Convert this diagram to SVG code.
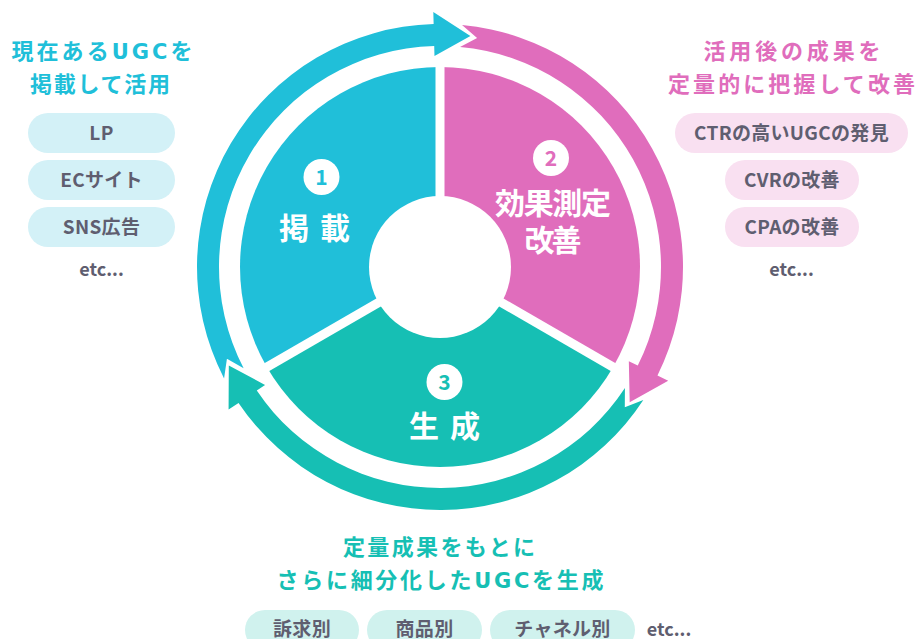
<svg xmlns="http://www.w3.org/2000/svg" width="917" height="639" viewBox="0 0 917 639">
<style>
text{font-family:"Noto Sans CJK JP","Noto Sans",sans-serif;font-weight:700}
.blue{fill:#20bfd9}.pink{fill:#e06dbc}.teal{fill:#16bfb4}
.lbl{fill:#fff;font-size:30px}
.num{font-size:21px;text-anchor:middle}
.ttl{font-size:22px;text-anchor:middle}
.lat{font-family:"DejaVu Sans",sans-serif;font-size:21px}
.pill-t{fill:#5f5e70;font-size:19px;text-anchor:middle;letter-spacing:0.3px}
.etc{fill:#5f5e70;font-size:18px;text-anchor:middle}
.pb{fill:#d3f1f7}.pp{fill:#f9e0f1}.pt{fill:#d0f2ee}
.div{stroke:#fff;stroke-width:9}
</style>
<rect width="917" height="639" fill="#fff"/>
<g id="connectors">
<path class="blue" d="M224.07,378.44 A243,243 0 0 1 433.64,24.08 L433.32,12.09 L470.41,36 L434.48,56.07 L434.21,46.07 A221,221 0 0 0 243.62,368.35 L226.93,358.76 Z"/>
<path class="pink" d="M462.02,25 A243,243 0 0 1 657.47,375.43 L668.21,380.78 L629.69,402.3 L628.83,361.15 L637.78,365.61 A221,221 0 0 0 460.03,46.91 L477.09,37.98 Z"/>
<path class="teal" d="M643.33,400.05 A243,243 0 0 1 238.54,402.88 L228.59,409.59 L228.8,365.5 L265.07,384.99 L256.78,390.58 A221,221 0 0 0 624.92,388 L624.8,407.27 Z"/>
</g>
<g id="sector-1">
<path class="blue" d="M440,267 L266.8,367 A200,200 0 0 1 440,67 Z"/>
</g>
<g id="sector-2">
<path class="pink" d="M440,267 L440,67 A200,200 0 0 1 613.2,367 Z"/>
</g>
<g id="sector-3">
<path class="teal" d="M440,267 L613.2,367 A200,200 0 0 1 266.8,367 Z"/>
</g>
<g id="dividers">
<line class="div" x1="440" y1="267" x2="440" y2="60"/>
<line class="div" x1="440" y1="267" x2="619" y2="370.5"/>
<line class="div" x1="440" y1="267" x2="261" y2="370.5"/>
<circle cx="440" cy="267" r="71" fill="#fff"/>
</g>
<g id="label-1">
<circle cx="321.5" cy="177" r="18" fill="#fff"/>
<text class="num blue" x="321.5" y="184.5">1</text>
<text class="lbl" x="279" y="238.5" letter-spacing="11">掲載</text>
</g>
<g id="label-2">
<circle cx="551" cy="158" r="18" fill="#fff"/>
<text class="num pink" x="551" y="165.5">2</text>
<text class="lbl" x="553" y="214" text-anchor="middle" font-size="27" textLength="116">効果測定</text>
<text class="lbl" x="553" y="251" text-anchor="middle" font-size="27" textLength="57">改善</text>
</g>
<g id="label-3">
<circle cx="444.5" cy="382" r="18" fill="#fff"/>
<text class="num teal" x="444.5" y="389.5">3</text>
<text class="lbl" x="409" y="436.5" letter-spacing="11">生成</text>
</g>
<g id="panel-left">
<text class="ttl blue" x="102" y="59" textLength="181">現在ある<tspan class="lat">UGC</tspan>を</text>
<text class="ttl blue" x="100" y="92" textLength="140">掲載して活用</text>
<rect class="pb" x="28" y="113" width="147" height="40" rx="20"/>
<text class="pill-t" x="101.5" y="140">LP</text>
<rect class="pb" x="28" y="160" width="147" height="40" rx="20"/>
<text class="pill-t" x="101.5" y="187">ECサイト</text>
<rect class="pb" x="28" y="207" width="147" height="40" rx="20"/>
<text class="pill-t" x="101.5" y="234">SNS広告</text>
<text class="etc" x="101.5" y="276">etc...</text>
</g>
<g id="panel-right">
<text class="ttl pink" x="792" y="59" textLength="177">活用後の成果を</text>
<text class="ttl pink" x="791.5" y="92" textLength="247">定量的に把握して改善</text>
<rect class="pp" x="675" y="113" width="233" height="40" rx="20"/>
<text class="pill-t" x="791.5" y="140">CTRの高いUGCの発見</text>
<rect class="pp" x="725" y="160" width="134" height="40" rx="20"/>
<text class="pill-t" x="792" y="187">CVRの改善</text>
<rect class="pp" x="725" y="207" width="134" height="40" rx="20"/>
<text class="pill-t" x="792" y="234">CPAの改善</text>
<text class="etc" x="791.5" y="276">etc...</text>
</g>
<g id="panel-bottom">
<text class="ttl teal" x="439" y="555" textLength="192">定量成果をもとに</text>
<text class="ttl teal" x="440" y="588" textLength="327">さらに細分化した<tspan class="lat">UGC</tspan>を生成</text>
<rect class="pt" x="245" y="610" width="114" height="40" rx="20"/>
<text class="pill-t" x="302" y="636">訴求別</text>
<rect class="pt" x="367" y="610" width="115" height="40" rx="20"/>
<text class="pill-t" x="424.5" y="636">商品別</text>
<rect class="pt" x="490" y="610" width="145" height="40" rx="20"/>
<text class="pill-t" x="562.5" y="636">チャネル別</text>
<text class="etc" x="669" y="636">etc...</text>
</g>
</svg>
